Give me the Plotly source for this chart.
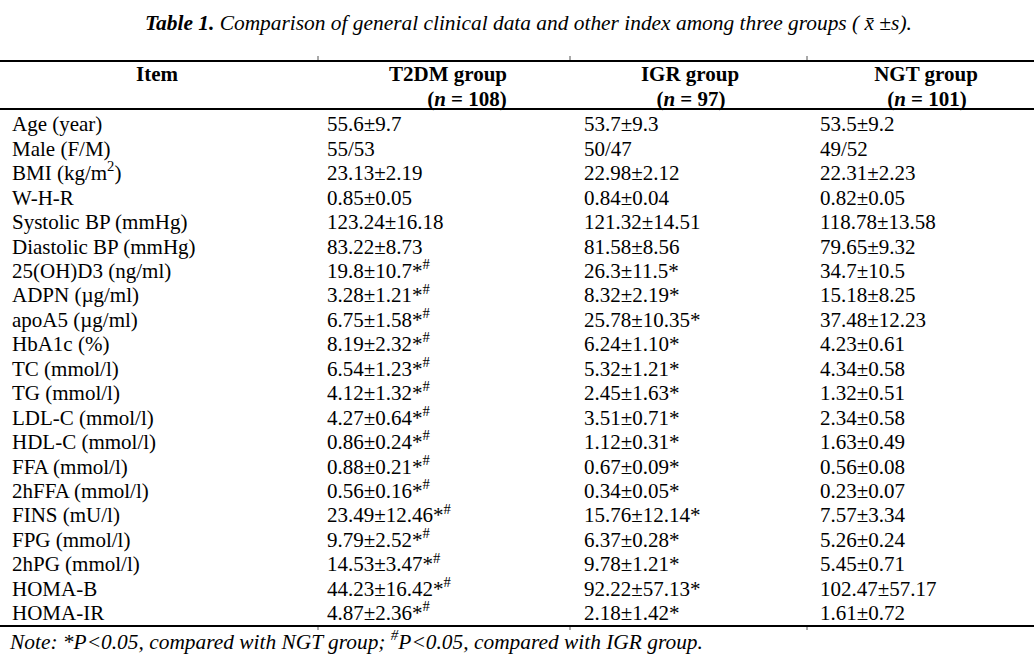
import plotly.graph_objects as go

title_text = ("<b><i>Table 1.</i></b><i> Comparison of general clinical data and other index "
              "among three groups ( x\u0304 \u00b1s).</i>")
note_text = ("<i>Note: *P&lt;0.05, compared with NGT group; <sup>#</sup>P&lt;0.05, "
             "compared with IGR group.</i>")

header_line1 = ["Item", "T2DM group", "IGR group", "NGT group"]
header_line2 = ["(<i>n</i> = 108)", "(<i>n</i> = 97)", "(<i>n</i> = 101)"]

items = ["Age (year)", "Male (F/M)", "BMI (kg/m<sup>2</sup>)", "W-H-R", "Systolic BP (mmHg)",
         "Diastolic BP (mmHg)", "25(OH)D3 (ng/ml)", "ADPN (\u00b5g/ml)", "apoA5 (\u00b5g/ml)",
         "HbA1c (%)", "TC (mmol/l)", "TG (mmol/l)", "LDL-C (mmol/l)", "HDL-C (mmol/l)",
         "FFA (mmol/l)", "2hFFA (mmol/l)", "FINS (mU/l)", "FPG (mmol/l)", "2hPG (mmol/l)",
         "HOMA-B", "HOMA-IR"]
t2dm = ["55.6\u00b19.7", "55/53", "23.13\u00b12.19", "0.85\u00b10.05", "123.24\u00b116.18",
        "83.22\u00b18.73", "19.8\u00b110.7*#", "3.28\u00b11.21*#", "6.75\u00b11.58*#",
        "8.19\u00b12.32*#", "6.54\u00b11.23*#", "4.12\u00b11.32*#", "4.27\u00b10.64*#",
        "0.86\u00b10.24*#", "0.88\u00b10.21*#", "0.56\u00b10.16*#", "23.49\u00b112.46*#",
        "9.79\u00b12.52*#", "14.53\u00b13.47*#", "44.23\u00b116.42*#", "4.87\u00b12.36*#"]
igr = ["53.7\u00b19.3", "50/47", "22.98\u00b12.12", "0.84\u00b10.04", "121.32\u00b114.51",
       "81.58\u00b18.56", "26.3\u00b111.5*", "8.32\u00b12.19*", "25.78\u00b110.35*",
       "6.24\u00b11.10*", "5.32\u00b11.21*", "2.45\u00b11.63*", "3.51\u00b10.71*",
       "1.12\u00b10.31*", "0.67\u00b10.09*", "0.34\u00b10.05*", "15.76\u00b112.14*",
       "6.37\u00b10.28*", "9.78\u00b11.21*", "92.22\u00b157.13*", "2.18\u00b11.42*"]
ngt = ["53.5\u00b19.2", "49/52", "22.31\u00b12.23", "0.82\u00b10.05", "118.78\u00b113.58",
       "79.65\u00b19.32", "34.7\u00b110.5", "15.18\u00b18.25", "37.48\u00b112.23",
       "4.23\u00b10.61", "4.34\u00b10.58", "1.32\u00b10.51", "2.34\u00b10.58",
       "1.63\u00b10.49", "0.56\u00b10.08", "0.23\u00b10.07", "7.57\u00b13.34",
       "5.26\u00b10.24", "5.45\u00b10.71", "102.47\u00b157.17", "1.61\u00b10.72"]

# layout (pixel-like x scale, row-index y scale)
W, H = 1034, 658
col_left = [12, 327, 584, 820]
col_center_h1 = [157, 448, 690, 926]
col_center_h2 = [467, 691, 927]
col_bounds = [318, 570, 807]
row_px0, row_step = 126.0, 24.45

def px_to_row(p):
    return (p - row_px0) / row_step

FONT = "Liberation Serif, Times New Roman, serif"
BODY = 21

def fmt(s):
    return s.replace("#", "<sup>#</sup>")

fig = go.Figure()
rows = list(range(len(items)))
columns = [items, [fmt(v) for v in t2dm], [fmt(v) for v in igr], [fmt(v) for v in ngt]]
for j, col in enumerate(columns):
    fig.add_trace(go.Scatter(x=[col_left[j]] * len(col), y=rows, text=col, mode="text",
                             textposition="middle right",
                             textfont=dict(family=FONT, size=BODY, color="#000"),
                             hoverinfo="skip", showlegend=False))

h1y, h2y = px_to_row(76), px_to_row(101)
fig.add_trace(go.Scatter(x=col_center_h1, y=[h1y] * 4, text=[f"<b>{t}</b>" for t in header_line1],
                         mode="text", textposition="middle center",
                         textfont=dict(family=FONT, size=BODY, color="#000"),
                         hoverinfo="skip", showlegend=False))
fig.add_trace(go.Scatter(x=col_center_h2, y=[h2y] * 3, text=[f"<b>{t}</b>" for t in header_line2],
                         mode="text", textposition="middle center",
                         textfont=dict(family=FONT, size=BODY, color="#000"),
                         hoverinfo="skip", showlegend=False))

fig.add_trace(go.Scatter(x=[145], y=[px_to_row(25)], text=[title_text], mode="text",
                         textposition="middle right",
                         textfont=dict(family=FONT, size=21.4, color="#000"),
                         hoverinfo="skip", showlegend=False))
fig.add_trace(go.Scatter(x=[10], y=[px_to_row(644)], text=[note_text], mode="text",
                         textposition="middle right",
                         textfont=dict(family=FONT, size=21.4, color="#000"),
                         hoverinfo="skip", showlegend=False))

for p in (61, 109, 626):
    fig.add_shape(type="line", xref="paper", x0=0, x1=1, yref="y", y0=px_to_row(p), y1=px_to_row(p),
                  line=dict(color="#000", width=2))
for b in col_bounds:
    fig.add_shape(type="line", xref="x", x0=b, x1=b, yref="y", y0=px_to_row(56), y1=px_to_row(60),
                  line=dict(color="#555", width=1))
    fig.add_shape(type="line", xref="x", x0=b, x1=b, yref="y", y0=px_to_row(627), y1=px_to_row(630),
                  line=dict(color="#555", width=1))

fig.update_layout(
    width=W, height=H, margin=dict(l=0, r=0, t=0, b=0),
    paper_bgcolor="white", plot_bgcolor="white",
    xaxis=dict(range=[0, W], visible=False, fixedrange=True),
    yaxis=dict(range=[px_to_row(H), px_to_row(0)], visible=False, fixedrange=True),
)
fig.write_html("out.html", config={"displayModeBar": False},
               post_script="document.body.style.margin='0';document.body.style.overflow='hidden';")
